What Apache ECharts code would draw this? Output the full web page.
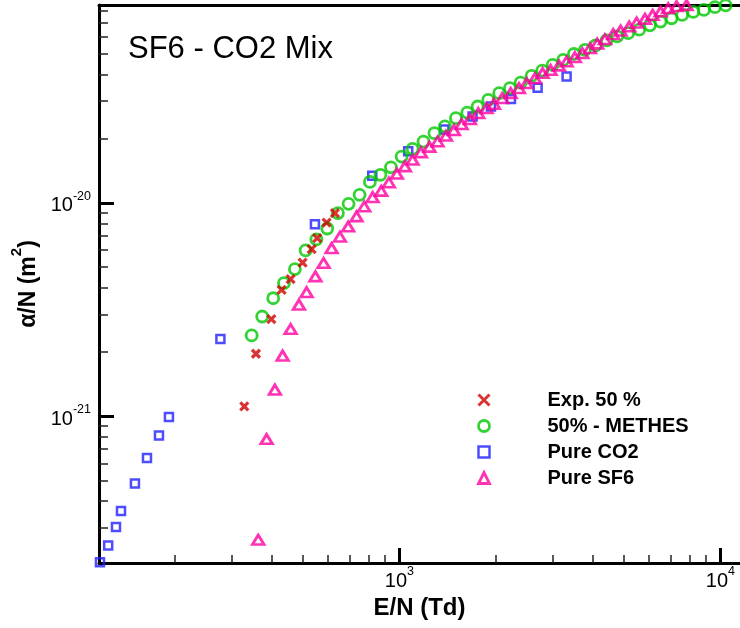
<!DOCTYPE html>
<html>
<head>
<meta charset="utf-8">
<script src="https://cdn.jsdelivr.net/npm/echarts@6/dist/echarts.min.js"></script>
<style>
html,body{margin:0;padding:0;background:#fff;}
#chart{width:740px;height:628px;}
</style>
</head>
<body>
<div id="chart"></div>
<script>
// ---- Data (E/N in Td, alpha/N in m^2) ----
const exp50X = [328.6, 357.3, 399.1, 429.5, 458.1, 499.3, 532.7, 554.4, 593.2, 629.6];
const exp50Y = [1.11e-21, 1.96e-21, 2.85e-21, 3.91e-21, 4.39e-21, 5.25e-21, 6.07e-21, 6.83e-21, 8.08e-21, 8.95e-21];

const methesX = [346.5, 373.7, 404.4, 436.8, 472.5, 510.3, 551.2, 595.8, 643.4, 694.4,
  751.6, 809.3, 872.8, 941, 1016, 1099, 1188, 1285, 1386, 1500,
  1627, 1752, 1891, 2046, 2209, 2386, 2581, 2786, 3001, 3238,
  3496, 3783, 4086, 4421, 4770, 5161, 5585, 6032, 6512, 7047,
  7603, 8229, 8884, 9614, 10380];
const methesY = [2.39e-21, 2.93e-21, 3.57e-21, 4.20e-21, 4.89e-21, 5.98e-21, 6.74e-21, 7.58e-21, 8.95e-21, 9.89e-21,
  1.09e-20, 1.254e-20, 1.353e-20, 1.467e-20, 1.649e-20, 1.792e-20, 1.939e-20, 2.122e-20, 2.284e-20, 2.495e-20,
  2.651e-20, 2.83e-20, 3.04e-20, 3.27e-20, 3.45e-20, 3.66e-20, 3.94e-20, 4.17e-20, 4.44e-20, 4.68e-20,
  4.99e-20, 5.22e-20, 5.47e-20, 5.78e-20, 6.03e-20, 6.25e-20, 6.49e-20, 6.80e-20, 7.08e-20, 7.34e-20,
  7.61e-20, 7.86e-20, 8.03e-20, 8.27e-20, 8.43e-20];

const co2X = [116.7, 123.8, 130.9, 135.7, 150, 163.5, 178.2, 191.4, 276.9, 545.5,
  823, 1065, 1381, 1690, 1928, 2226, 2695, 3318];
const co2Y = [2.06e-22, 2.47e-22, 3.02e-22, 3.59e-22, 4.83e-22, 6.35e-22, 8.11e-22, 9.9e-22, 2.30e-21, 7.93e-21,
  1.34e-20, 1.748e-20, 2.21e-20, 2.54e-20, 2.83e-20, 3.07e-20, 3.47e-20, 3.91e-20];

const sf6X = [363.2, 385.7, 409.3, 432.6, 458.2, 486.3, 514, 547.3, 580.5, 614.9,
  652.5, 692.5, 735.4, 776.9, 825.2, 877.7, 927.4, 982.2, 1040, 1099,
  1167, 1240, 1315, 1396, 1478, 1562, 1658, 1760, 1869, 1970,
  2090, 2221, 2357, 2490, 2643, 2793, 2958, 3140, 3318, 3521,
  3716, 3922, 4133, 4367, 4634, 4887, 5198, 5482, 5820, 6150,
  6512, 6877, 7304, 7846];
const sf6Y = [2.63e-22, 7.80e-22, 1.33e-21, 1.92e-21, 2.56e-21, 3.33e-21, 3.81e-21, 4.52e-21, 5.22e-21, 6.13e-21,
  6.93e-21, 7.74e-21, 8.64e-21, 9.61e-21, 1.063e-20, 1.138e-20, 1.245e-20, 1.368e-20, 1.483e-20, 1.591e-20,
  1.725e-20, 1.83e-20, 1.939e-20, 2.062e-20, 2.192e-20, 2.339e-20, 2.469e-20, 2.634e-20, 2.78e-20, 2.911e-20,
  3.097e-20, 3.27e-20, 3.45e-20, 3.64e-20, 3.84e-20, 4.06e-20, 4.20e-20, 4.40e-20, 4.60e-20, 4.82e-20,
  5.03e-20, 5.31e-20, 5.58e-20, 5.85e-20, 6.18e-20, 6.42e-20, 6.71e-20, 7.00e-20, 7.29e-20, 7.61e-20,
  7.89e-20, 8.18e-20, 8.36e-20, 8.46e-20];

const seriesNames = ['Exp. 50 %', '50% - METHES', 'Pure CO2', 'Pure SF6'];

// ---- Axis ticks / labels ----
const xMajorTicks = [1000, 10000];
const xTickExp = ['3', '4'];
const xMinorTicks = [200, 300, 400, 500, 600, 700, 800, 900, 2000, 3000, 4000, 5000, 6000, 7000, 8000, 9000];
const yMajorTicks = [1e-21, 1e-20];
const yTickExp = ['-21', '-20'];
const yMinorTicks = [3e-22, 4e-22, 5e-22, 6e-22, 7e-22, 8e-22, 9e-22,
  2e-21, 3e-21, 4e-21, 5e-21, 6e-21, 7e-21, 8e-21, 9e-21,
  2e-20, 3e-20, 4e-20, 5e-20, 6e-20, 7e-20, 8e-20];

const X_MIN = 115.9, X_MAX = 11510;
const Y_MIN = 2.046e-22, Y_MAX = 8.47e-20;

function zip(a, b) { return a.map((v, i) => [v, b[i]]); }
function expLabel(ticks, exps) {
  return function (v) {
    for (let i = 0; i < ticks.length; i++) {
      if (Math.abs(Math.log10(v) - Math.log10(ticks[i])) < 1e-6) return '{b|10}{s|' + exps[i] + '}';
    }
    return '';
  };
}

const FONT = 'Liberation Sans, Arial, Helvetica, sans-serif';
const C_RED = '#d00000', C_GREEN = '#00c800', C_BLUE = '#2020ff', C_PINK = '#ff00a0';
const X_PATH = 'path://M0,0L10,10M10,0L0,10';

const labelRich = {
  b: { fontSize: 20, fontFamily: FONT, color: '#000', lineHeight: 26, verticalAlign: 'bottom' },
  s: { fontSize: 12.5, fontFamily: FONT, color: '#000', lineHeight: 12, verticalAlign: 'top' }
};

const chart = echarts.init(document.getElementById('chart'), null, { renderer: 'canvas' });

const option = {
  animation: false,
  backgroundColor: '#fff',
  title: {
    text: 'SF6 - CO2 Mix',
    left: 128, top: 34, padding: 0,
    textStyle: { fontFamily: FONT, fontSize: 31, fontWeight: 'normal', color: '#000' }
  },
  grid: { left: 99, right: 0, top: 5, bottom: 65, containLabel: false },
  legend: {
    orient: 'vertical',
    left: 477, top: 390, padding: 0,
    itemWidth: 11, itemHeight: 11, itemGap: 6,
    textStyle: { fontFamily: FONT, fontSize: 20, fontWeight: 'bold', color: '#000', padding: [0, 0, 0, 53] },
    data: [
      { name: seriesNames[0], icon: X_PATH, itemStyle: { color: 'rgba(0,0,0,0)', borderColor: C_RED, borderWidth: 3 } },
      { name: seriesNames[1], icon: 'circle', itemStyle: { color: 'rgba(0,0,0,0)', borderColor: C_GREEN, borderWidth: 2.8 } },
      { name: seriesNames[2], icon: 'rect', itemStyle: { color: 'rgba(0,0,0,0)', borderColor: C_BLUE, borderWidth: 2.5 } },
      { name: seriesNames[3], icon: 'triangle', itemStyle: { color: 'rgba(0,0,0,0)', borderColor: C_PINK, borderWidth: 2.8 } }
    ],
    selectedMode: false
  },
  xAxis: [
    {
      type: 'log', logBase: 10, min: X_MIN, max: X_MAX, position: 'bottom',
      name: 'E/N (Td)', nameLocation: 'middle', nameGap: 32,
      nameTextStyle: { fontFamily: FONT, fontSize: 24, fontWeight: 'bold', color: '#000' },
      axisLine: { show: true, onZero: false, lineStyle: { color: '#000', width: 3 } },
      axisTick: { show: true, inside: true, length: 15, customValues: xMajorTicks, lineStyle: { color: '#000', width: 3 } },
      axisLabel: { show: true, margin: 2, customValues: xMajorTicks, formatter: expLabel(xMajorTicks, xTickExp), rich: labelRich },
      splitLine: { show: false }, minorTick: { show: false }
    },
    {
      type: 'log', logBase: 10, min: X_MIN, max: X_MAX, position: 'bottom',
      axisLine: { show: false, onZero: false },
      axisTick: { show: true, inside: true, length: 8, customValues: xMinorTicks, lineStyle: { color: '#222', width: 1.5 } },
      axisLabel: { show: false }, splitLine: { show: false }
    },
    {
      type: 'log', logBase: 10, min: X_MIN, max: X_MAX, position: 'top',
      axisLine: { show: true, onZero: false, lineStyle: { color: '#000', width: 3 } },
      axisTick: { show: false }, axisLabel: { show: false }, splitLine: { show: false }
    }
  ],
  yAxis: [
    {
      type: 'log', logBase: 10, min: Y_MIN, max: Y_MAX, position: 'left',
      name: '{a|α/N (m}{s|2}{a|)}', nameLocation: 'middle', nameGap: 54, nameRotate: 90,
      nameTextStyle: {
        rich: {
          a: { fontFamily: FONT, fontSize: 23, fontWeight: 'bold', color: '#000', lineHeight: 30, verticalAlign: 'bottom' },
          s: { fontFamily: FONT, fontSize: 15, fontWeight: 'bold', color: '#000', lineHeight: 15, verticalAlign: 'top' }
        }
      },
      axisLine: { show: true, onZero: false, lineStyle: { color: '#000', width: 3 } },
      axisTick: { show: true, inside: true, length: 15, customValues: yMajorTicks, lineStyle: { color: '#000', width: 3 } },
      axisLabel: { show: true, margin: 8, customValues: yMajorTicks, formatter: expLabel(yMajorTicks, yTickExp), rich: labelRich },
      splitLine: { show: false }, minorTick: { show: false }
    },
    {
      type: 'log', logBase: 10, min: Y_MIN, max: Y_MAX, position: 'left',
      axisLine: { show: false, onZero: false },
      axisTick: { show: true, inside: true, length: 9, customValues: yMinorTicks, lineStyle: { color: '#222', width: 1.5 } },
      axisLabel: { show: false }, splitLine: { show: false }
    }
  ],
  series: [
    {
      name: seriesNames[2], type: 'scatter', xAxisIndex: 0, yAxisIndex: 0, clip: false,
      symbol: 'rect', symbolSize: 8,
      itemStyle: { color: 'rgba(0,0,0,0)', borderColor: C_BLUE, borderWidth: 2.5 },
      emphasis: { disabled: true },
      data: zip(co2X, co2Y)
    },
    {
      name: seriesNames[1], type: 'scatter', xAxisIndex: 0, yAxisIndex: 0, clip: false,
      symbol: 'circle', symbolSize: 11,
      itemStyle: { color: 'rgba(0,0,0,0)', borderColor: C_GREEN, borderWidth: 2.8 },
      emphasis: { disabled: true },
      data: zip(methesX, methesY)
    },
    {
      name: seriesNames[3], type: 'scatter', xAxisIndex: 0, yAxisIndex: 0, clip: false,
      symbol: 'triangle', symbolSize: [11.5, 9.5],
      itemStyle: { color: 'rgba(0,0,0,0)', borderColor: C_PINK, borderWidth: 2.8 },
      emphasis: { disabled: true },
      data: zip(sf6X, sf6Y)
    },
    {
      name: seriesNames[0], type: 'scatter', xAxisIndex: 0, yAxisIndex: 0, clip: false,
      symbol: X_PATH, symbolSize: 8,
      itemStyle: { color: 'rgba(0,0,0,0)', borderColor: C_RED, borderWidth: 3.2 },
      emphasis: { disabled: true },
      data: zip(exp50X, exp50Y)
    }
  ]
};
chart.setOption(option);
</script>
</body>
</html>
